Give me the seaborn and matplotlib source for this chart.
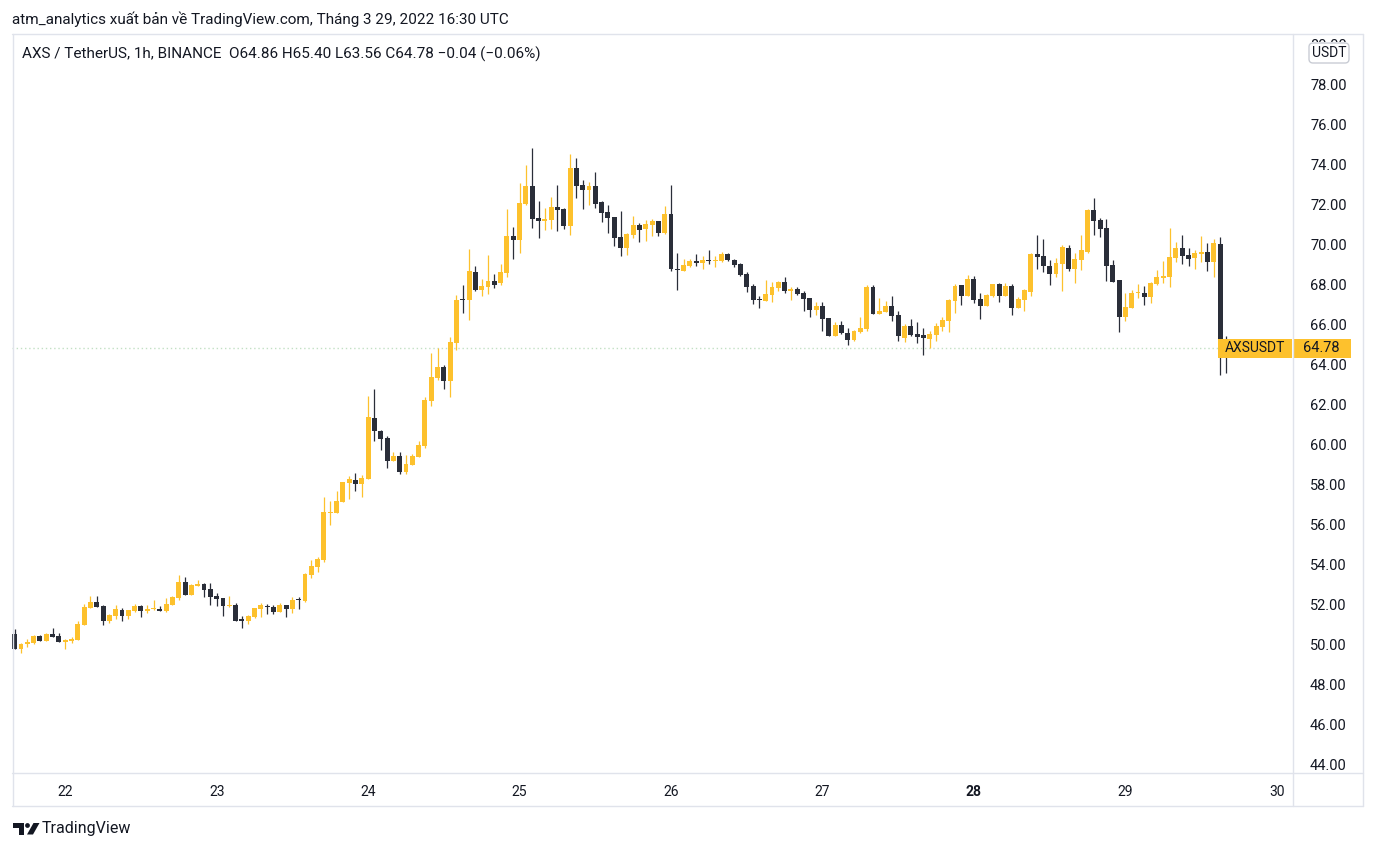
import numpy as np
import pandas as pd
import matplotlib
matplotlib.use('Agg')
import matplotlib.pyplot as plt
import matplotlib.dates as mdates
from matplotlib.patches import Rectangle, FancyBboxPatch, Polygon, Circle
from matplotlib.lines import Line2D
from matplotlib.transforms import Bbox
import seaborn as sns

sns.set_style("white")
plt.rcParams['font.family'] = ['Roboto', 'DejaVu Sans']

# ── hourly AXS/USDT candles, 21 Mar 16:00 -> 29 Mar 16:00 UTC ─────────
start = '2022-03-21 16:00'
opens = [50.5, 49.75, 50.02, 50.07, 50.4, 50.17, 50.5, 50.4, 50.12, 50.15,
         50.2, 50.97, 51.82, 52.1, 51.9, 51.17, 51.42, 51.7, 51.42, 51.67,
         51.9, 51.67, 51.73, 51.77, 51.67, 51.97, 52.32, 53.1, 52.47, 52.9,
         53.0, 52.75, 52.4, 52.3, 51.9, 51.95, 51.27, 51.17, 51.37, 51.75,
         51.9, 51.85, 51.62, 51.95, 51.77, 52.22, 52.17, 53.47, 53.85, 54.2,
         56.57, 56.57, 57.1, 58.07, 58.2, 58.02, 58.27, 61.3, 60.65, 60.3,
         59.15, 59.4, 58.6, 58.95, 59.35, 59.9, 62.15, 63.3, 63.85, 63.15,
         65.05, 67.25, 67.2, 68.6, 67.7, 67.85, 68.15, 68.05, 68.55, 70.4,
         70.2, 72.0, 72.9, 71.3, 71.15, 71.2, 71.85, 71.75, 70.9, 73.8,
         72.95, 72.7, 72.9, 72.1, 71.6, 71.35, 70.35, 69.82, 70.47, 70.95,
         70.77, 70.95, 71.15, 70.57, 71.5, 68.75, 68.67, 68.92, 69.17, 69.07,
         69.2, 69.17, 69.17, 69.52, 69.2, 69.0, 68.5, 67.9, 67.25, 67.15,
         67.45, 67.8, 68.1, 67.65, 67.75, 67.55, 67.3, 66.7, 66.9, 66.3,
         65.4, 65.95, 65.55, 65.2, 65.6, 65.75, 67.85, 66.5, 66.6, 66.9,
         66.45, 65.3, 65.9, 65.5, 65.45, 65.25, 65.45, 65.85, 66.15, 67.15,
         67.95, 67.4, 68.25, 67.25, 66.9, 67.4, 68.0, 67.4, 67.9, 66.8,
         67.2, 67.6, 69.5, 69.4, 68.9, 68.5, 69.0, 69.8, 68.75, 69.2,
         69.6, 71.7, 71.2, 70.8, 68.95, 68.2, 66.35, 66.8, 67.53, 67.55,
         67.35, 68.0, 68.32, 68.35, 69.3, 69.8, 69.45, 69.3, 69.5, 69.6,
         69.1, 70.0, 64.86]
highs = [50.75, 50.07, 50.25, 50.45, 50.45, 50.55, 50.8, 50.55, 50.25, 50.35,
         51.15, 52.02, 52.4, 52.4, 51.97, 51.52, 51.97, 51.8, 51.7, 52.0,
         51.95, 51.95, 52.2, 51.9, 52.3, 52.4, 53.45, 53.35, 53.0, 53.2,
         53.05, 53.05, 52.55, 52.3, 52.4, 52.05, 51.42, 51.47, 51.8, 52.05,
         52.0, 51.95, 52.05, 51.95, 52.35, 52.35, 53.55, 54.2, 54.35, 57.35,
         57.15, 57.65, 58.1, 58.4, 58.55, 58.45, 62.4, 62.75, 60.7, 60.4,
         59.6, 59.6, 59.45, 59.5, 60.15, 62.35, 64.55, 64.8, 63.95, 65.35,
         67.45, 67.95, 69.75, 68.9, 68.25, 69.45, 68.5, 69.0, 71.75, 70.85,
         73.05, 73.95, 74.8, 72.15, 71.8, 72.35, 72.95, 71.8, 74.5, 74.3,
         73.2, 73.1, 73.6, 72.15, 71.95, 71.35, 71.65, 70.55, 71.4, 71.05,
         71.2, 71.25, 71.15, 71.9, 72.95, 69.55, 69.27, 69.27, 69.52, 69.42,
         69.7, 69.42, 69.62, 69.57, 69.25, 69.05, 68.6, 68.0, 67.4, 68.2,
         68.1, 68.15, 68.35, 67.85, 67.85, 67.65, 67.3, 67.1, 67.1, 66.3,
         66.1, 66.15, 65.8, 65.7, 66.35, 67.95, 67.95, 67.3, 67.15, 67.4,
         66.65, 66.0, 66.25, 66.1, 65.8, 65.65, 66.05, 66.35, 67.25, 68.0,
         67.95, 68.45, 68.4, 67.55, 67.5, 68.0, 68.05, 68.05, 68.0, 67.35,
         67.75, 69.55, 70.45, 70.25, 69.2, 69.3, 69.95, 69.95, 69.55, 70.45,
         71.75, 72.3, 71.3, 71.25, 69.2, 68.2, 67.55, 67.7, 68.0, 67.9,
         68.1, 68.7, 69.15, 70.8, 70.1, 70.45, 69.8, 69.7, 70.4, 70.05,
         70.25, 70.35, 65.40]
lows = [49.73, 49.57, 49.85, 50.02, 50.17, 50.13, 50.35, 50.12, 49.75, 50.07,
        50.2, 50.97, 51.82, 51.87, 50.97, 51.07, 51.27, 51.17, 51.27, 51.62,
        51.37, 51.57, 51.72, 51.67, 51.62, 51.97, 52.22, 52.47, 52.47, 52.9,
        52.37, 51.97, 51.92, 51.42, 51.87, 51.17, 50.82, 51.02, 51.32, 51.37,
        51.52, 51.52, 51.62, 51.37, 51.57, 51.75, 52.12, 53.32, 53.6, 54.1,
        55.95, 56.57, 57.1, 57.25, 57.65, 57.35, 58.27, 60.15, 59.7, 58.8,
        59.15, 58.5, 58.5, 58.95, 59.35, 59.8, 61.9, 63.2, 62.75, 62.35,
        64.7, 66.55, 66.2, 67.65, 67.4, 67.5, 67.8, 67.95, 68.35, 69.25,
        69.55, 71.95, 70.8, 70.3, 70.7, 70.75, 70.65, 70.75, 70.45, 72.3,
        71.75, 71.95, 71.8, 71.1, 70.55, 69.92, 69.42, 69.47, 70.32, 70.12,
        70.17, 70.42, 70.42, 70.52, 68.67, 67.72, 68.67, 68.87, 68.92, 68.77,
        69.0, 68.87, 69.12, 69.17, 68.85, 68.4, 67.6, 67.0, 66.8, 67.15,
        67.1, 67.65, 67.55, 67.2, 67.45, 66.65, 66.35, 66.45, 65.65, 65.4,
        65.4, 65.5, 64.95, 65.15, 65.55, 65.65, 66.5, 66.5, 66.6, 66.15,
        65.15, 65.1, 65.4, 65.05, 64.45, 64.8, 65.15, 65.65, 65.6, 66.55,
        66.95, 67.4, 67.05, 66.25, 66.9, 67.35, 67.1, 67.4, 66.45, 66.8,
        66.65, 67.4, 68.75, 68.6, 67.95, 68.35, 67.65, 68.65, 68.05, 68.7,
        69.55, 70.45, 70.35, 68.15, 68.1, 65.6, 66.15, 66.8, 67.3, 66.95,
        67.05, 67.95, 68.05, 67.85, 69.1, 69.0, 68.9, 68.75, 69.1, 68.65,
        68.35, 63.45, 63.56]
closes = [49.75, 50.0, 50.12, 50.42, 50.17, 50.5, 50.35, 50.12, 50.22, 50.25,
          51.0, 51.85, 52.1, 51.87, 51.17, 51.45, 51.75, 51.42, 51.7, 51.9,
          51.67, 51.77, 51.78, 51.67, 52.0, 52.35, 53.1, 52.47, 52.95, 53.0,
          52.7, 52.35, 52.27, 51.92, 51.97, 51.17, 51.17, 51.42, 51.8, 51.95,
          51.87, 51.62, 51.95, 51.77, 52.2, 52.18, 53.5, 53.9, 54.25, 56.6,
          56.6, 57.15, 58.1, 58.25, 58.02, 58.3, 61.35, 60.65, 60.25, 59.15,
          59.4, 58.6, 59.0, 59.4, 59.95, 62.2, 63.35, 63.85, 63.15, 65.1,
          67.2, 67.22, 68.65, 67.7, 67.9, 68.15, 67.95, 68.6, 70.4, 70.2,
          72.05, 72.9, 71.25, 71.15, 71.25, 71.85, 71.7, 70.9, 73.8, 72.9,
          72.7, 72.9, 72.0, 71.55, 71.3, 70.32, 69.82, 70.5, 70.95, 70.72,
          71.0, 71.15, 70.57, 71.5, 68.77, 68.72, 68.97, 69.17, 69.07, 69.22,
          69.17, 69.2, 69.52, 69.2, 68.95, 68.45, 67.85, 67.2, 67.22, 67.5,
          67.85, 68.1, 67.65, 67.75, 67.5, 67.25, 66.7, 66.9, 66.25, 65.4,
          65.95, 65.55, 65.2, 65.65, 65.8, 67.85, 66.5, 66.65, 66.9, 66.4,
          65.4, 65.9, 65.45, 65.35, 65.3, 65.5, 65.9, 66.2, 67.2, 67.9,
          67.4, 68.25, 67.2, 66.9, 67.43, 68.0, 67.4, 67.9, 66.8, 67.25,
          67.7, 69.5, 69.35, 68.9, 68.5, 69.05, 69.85, 68.75, 69.25, 69.7,
          71.7, 71.17, 70.75, 68.9, 68.1, 66.35, 66.85, 67.55, 67.55, 67.35,
          68.05, 68.35, 68.4, 69.35, 69.8, 69.4, 69.25, 69.55, 69.6, 69.1,
          70.05, 64.86, 64.78]

price_ticks = np.arange(44, 82, 2)
day_labels = ['22', '23', '24', '25', '26', '27', '28', '29', '30']
bold_day = '28'

UP, DOWN = '#fdc12d', '#2a2e39'
TEXT = '#131722'
BORDER = '#e0e3eb'

df = pd.DataFrame({'time': pd.date_range(start, periods=len(closes), freq='h'),
                   'open': opens, 'high': highs, 'low': lows, 'close': closes})
df['x'] = mdates.date2num(df['time'])
df['up'] = df['close'] >= df['open']
df['color'] = np.where(df['up'], UP, DOWN)
df['body_lo'] = df[['open', 'close']].min(axis=1)
df['body_h'] = np.maximum((df['close'] - df['open']).abs(), 0.05)

W, H = 1377, 851
fig = plt.figure(figsize=(W / 100, H / 100), dpi=100)
fig.patch.set_facecolor('white')


def fx(px):
    return px / W


def fy(py):
    return 1 - py / H


ax = fig.add_axes([fx(12), fy(772), fx(1292) - fx(12), fy(34) - fy(772)])
ax.set_facecolor('white')

hour = 1 / 24
ax.vlines(df['x'], df['low'], df['high'], colors=df['color'], linewidth=0.9, zorder=2)
ax.bar(df['x'], df['body_h'], bottom=df['body_lo'], width=0.78 * hour,
       color=df['color'], linewidth=0, zorder=3)

last = closes[-1]
ax.axhline(last, color='#c2e0c4', linestyle=(0, (1, 2)), linewidth=1, zorder=1)

ax.set_xlim(df['x'].iloc[0] - 0.43 * hour, df['x'].iloc[0] + 202.4 * hour)
ax.set_ylim(43.6, 80.5)

ax.yaxis.tick_right()
ax.set_yticks(price_ticks)
ax.set_yticklabels([f'{v:.2f}' for v in price_ticks])
ax.tick_params(axis='y', length=0, pad=13, labelsize=10.5, labelcolor=TEXT)

day_pos = mdates.date2num(pd.date_range('2022-03-22', periods=len(day_labels), freq='D'))
ax.set_xticks(day_pos)
ax.set_xticklabels(day_labels)
ax.tick_params(axis='x', length=0, pad=9, labelsize=10, labelcolor=TEXT)
for lbl in ax.get_xticklabels():
    if lbl.get_text() == bold_day:
        lbl.set_fontweight('bold')
for s in ax.spines.values():
    s.set_visible(False)
ax.grid(False)

# the top price label sits behind the currency box: only its upper edge shows
top_clip = Bbox.from_extents(1293, H - 42, 1362, H - 34)
for lbl in ax.get_yticklabels():
    if lbl.get_text() == f'{price_ticks[-1]:.2f}':
        lbl.set_clip_box(top_clip)
        lbl.set_clip_on(True)

# last price labels
ytr = ax.get_yaxis_transform()
ax.add_patch(Rectangle((0.942, last - 0.475), 0.058, 0.95, transform=ytr,
                       facecolor=UP, edgecolor='none', zorder=6, clip_on=False))
ax.text(0.971, last, 'AXSUSDT', transform=ytr, ha='center', va='center',
        fontsize=10, color=TEXT, zorder=7)
ax.add_patch(Rectangle((1.0008, last - 0.475), 0.0453, 0.95, transform=ytr,
                       facecolor=UP, edgecolor='none', zorder=6, clip_on=False))
ax.text(1.023, last, f'{last:.2f}', transform=ytr, ha='center', va='center',
        fontsize=10.5, color=TEXT, zorder=7, clip_on=False)

# ── frame / panel borders ─────────────────────────────────────────────
px = fig.dpi_scale_trans


def P(x, y):
    return (x / 100, (H - y) / 100)


for (x0, y0), (x1, y1) in [((12, 34), (1363, 34)), ((12, 806), (1363, 806)),
                           ((12.5, 34), (12.5, 806)), ((1362.5, 34), (1362.5, 806)),
                           ((1292.5, 34), (1292.5, 806)), ((12, 772.5), (1363, 772.5))]:
    a, b = P(x0, y0), P(x1, y1)
    fig.add_artist(Line2D([a[0], b[0]], [a[1], b[1]], transform=px,
                          color=BORDER, linewidth=1, zorder=4))

# USDT currency box
fig.add_artist(FancyBboxPatch(P(1309, 63), 40 / 100, 20 / 100,
                              boxstyle='round,pad=0,rounding_size=0.04',
                              transform=px, facecolor='white', edgecolor='#c9ccd4',
                              linewidth=1, zorder=8))
fig.text(fx(1329), fy(53), 'USDT', ha='center', va='center', fontsize=10,
         color=TEXT, zorder=9)

# header texts
fig.text(fx(12), fy(19), 'atm_analytics xuất bản về TradingView.com, Tháng 3 29, 2022 16:30 UTC',
         ha='left', va='center', fontsize=11, color=TEXT)
fig.text(fx(22), fy(54),
         'AXS / TetherUS, 1h, BINANCE  O64.86 H65.40 L63.56 C64.78 \u22120.04 (\u22120.06%)',
         ha='left', va='center', fontsize=11, color=TEXT)

# TradingView logo
logo = [Rectangle(P(13, 827.5), 11 / 100, 4.5 / 100),
        Rectangle(P(18.5, 834.5), 5.5 / 100, 11.5 / 100),
        Circle(P(27.5, 825.5), 2.4 / 100),
        Polygon([P(33.5, 823), P(39.5, 823), P(33, 834.5), P(27, 834.5)])]
for p in logo:
    p.set_transform(px)
    p.set_facecolor(TEXT)
    p.set_edgecolor('none')
    fig.add_artist(p)
fig.text(fx(42), fy(829), 'TradingView', ha='left', va='center', fontsize=11.5,
         color=TEXT)

plt.savefig('out.png', dpi=100)
plt.close()
